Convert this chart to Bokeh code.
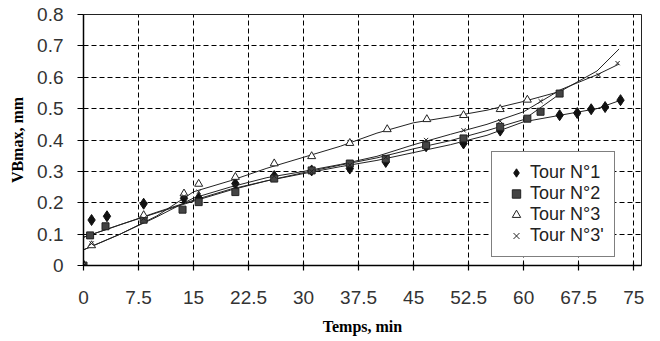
from bokeh.plotting import figure
from bokeh.models import Range1d, FixedTicker, Legend, LegendItem
from bokeh.embed import file_html
from bokeh.resources import INLINE

# ---- axis ticks ----
x_ticks = [0, 7.5, 15, 22.5, 30, 37.5, 45, 52.5, 60, 67.5, 75]
x_tick_labels = ["0", "7.5", "15", "22.5", "30", "37.5", "45", "52.5", "60", "67.5", "75"]
y_ticks = [0, 0.1, 0.2, 0.3, 0.4, 0.5, 0.6, 0.7, 0.8]
y_tick_labels = ["0", "0.1", "0.2", "0.3", "0.4", "0.5", "0.6", "0.7", "0.8"]

# ---- measured points ----
tour1_x = [0, 1.1, 3.2, 8.2, 13.7, 15.7, 20.7, 26, 31.1, 36.3, 41.2, 46.7, 51.8, 56.8, 64.9, 67.3, 69.2, 71.1, 73.2]
tour1_y = [0, 0.145, 0.157, 0.197, 0.214, 0.215, 0.261, 0.285, 0.303, 0.309, 0.33, 0.38, 0.389, 0.43, 0.479, 0.486, 0.498, 0.505, 0.527]

tour2_x = [0, 0.9, 3.0, 8.2, 13.5, 15.7, 20.7, 26, 31.1, 36.3, 41.2, 46.7, 51.8, 56.8, 60.5, 62.3, 64.9]
tour2_y = [0, 0.096, 0.125, 0.146, 0.178, 0.202, 0.234, 0.277, 0.303, 0.325, 0.34, 0.383, 0.405, 0.442, 0.468, 0.49, 0.548]

tour3_x = [0, 1.1, 8.2, 13.7, 15.7, 20.7, 26, 31.1, 36.3, 41.4, 46.8, 51.8, 56.8, 60.5]
tour3_y = [0, 0.064, 0.16, 0.229, 0.26, 0.282, 0.325, 0.348, 0.39, 0.434, 0.466, 0.479, 0.498, 0.528]

tour3b_x = [0, 1.1, 8.2, 13.7, 15.7, 20.7, 26, 31.1, 36.3, 41.2, 46.7, 51.8, 56.8, 62.3, 70.2, 72.8]
tour3b_y = [0, 0.07, 0.15, 0.22, 0.235, 0.255, 0.285, 0.3, 0.32, 0.345, 0.4, 0.431, 0.46, 0.524, 0.607, 0.645]

# ---- trend curves ----
trend_x = [0, 5, 10, 15, 20, 25, 30, 35, 40, 45, 50, 55, 60, 65, 70, 73]
trend1_y = [0.09, 0.13, 0.17, 0.208, 0.243, 0.27, 0.293, 0.315, 0.335, 0.36, 0.385, 0.415, 0.458, 0.479, 0.5, 0.525]
trend2_x = [0, 5, 10, 15, 20, 25, 30, 35, 40, 45, 50, 55, 60, 65]
trend2_y = [0.09, 0.13, 0.168, 0.205, 0.24, 0.27, 0.296, 0.32, 0.343, 0.372, 0.398, 0.43, 0.465, 0.548]
trend3_y = [0.05, 0.1, 0.158, 0.235, 0.27, 0.31, 0.345, 0.38, 0.422, 0.455, 0.474, 0.495, 0.523, 0.555, 0.62, 0.69]
trend3b_y = [0.05, 0.1, 0.155, 0.215, 0.25, 0.28, 0.3, 0.322, 0.348, 0.385, 0.418, 0.45, 0.49, 0.56, 0.608, 0.642]

series_labels = ["Tour N°1", "Tour N°2", "Tour N°3", "Tour N°3'"]

p = figure(width=652, height=338, output_backend="svg", toolbar_location=None,
           x_range=Range1d(0, 76.06), y_range=Range1d(0, 0.8),
           min_border_left=83, min_border_right=11, min_border_top=14, min_border_bottom=73)
p.background_fill_color = "white"
p.border_fill_color = "white"
p.outline_line_color = "#222222"
p.outline_line_width = 1

# grids
p.xgrid.ticker = FixedTicker(ticks=x_ticks[1:])
p.ygrid.ticker = FixedTicker(ticks=y_ticks[1:])
for g in (p.xgrid[0], p.ygrid[0]):
    g.grid_line_color = "black"
    g.grid_line_dash = "5 3"
    g.grid_line_width = 1

# axes
tick_font = "Liberation Sans"
p.xaxis.ticker = FixedTicker(ticks=x_ticks)
p.xaxis.major_label_overrides = {t: l for t, l in zip(x_ticks, x_tick_labels)}
p.yaxis.ticker = FixedTicker(ticks=y_ticks)
p.yaxis.major_label_overrides = {t: l for t, l in zip(y_ticks, y_tick_labels)}
for ax in (p.xaxis[0], p.yaxis[0]):
    ax.axis_line_color = "black"
    ax.axis_line_width = 1.5
    ax.major_tick_line_color = "black"
    ax.major_tick_line_width = 1.2
    ax.minor_tick_line_color = None
    ax.major_label_text_font = tick_font
    ax.major_label_text_font_size = "19px"
    ax.major_label_text_color = "#333333"
    ax.axis_label_text_font = "Liberation Serif"
    ax.axis_label_text_font_style = "bold"
    ax.axis_label_text_font_size = "16px"
    ax.axis_label_text_color = "black"
p.xaxis.major_tick_in = 3
p.xaxis.major_tick_out = 5
p.yaxis.major_tick_in = 0
p.yaxis.major_tick_out = 6
p.xaxis.major_label_standoff = 20
p.yaxis.major_label_standoff = 14
p.xaxis.axis_label = "Temps, min"
p.yaxis.axis_label = "VBmax, mm"
p.xaxis.axis_label_standoff = 11
p.yaxis.axis_label_standoff = 8

# trend lines
p.line(trend_x, trend1_y, line_color="#222222", line_width=1)
p.line(trend2_x, trend2_y, line_color="#222222", line_width=1)
p.line(trend_x, trend3_y, line_color="#222222", line_width=1)
p.line(trend_x, trend3b_y, line_color="#222222", line_width=1)

# markers
r1 = p.scatter(tour1_x, tour1_y, marker="diamond", size=11, fill_color="#111111", line_color="#111111")
r2 = p.scatter(tour2_x, tour2_y, marker="square", size=7, fill_color="#444444", line_color="#222222")
r3 = p.scatter(tour3_x, tour3_y, marker="triangle", size=8, fill_color="white", line_color="#222222", line_width=1)
r4 = p.scatter(tour3b_x, tour3b_y, marker="x", size=6, line_color="#222222", line_width=1)

legend = Legend(items=[LegendItem(label=l, renderers=[r]) for l, r in zip(series_labels, [r1, r2, r3, r4])],
                location=(408, 8), margin=0, padding=10, spacing=0,
                label_height=21, glyph_height=21, glyph_width=28, label_standoff=0,
                label_text_font=tick_font, label_text_font_size="18px", label_text_color="#222222",
                border_line_color="black", border_line_width=1.5,
                background_fill_color="white", background_fill_alpha=1)
p.add_layout(legend, "center")

open("out.html", "w").write(file_html(p, INLINE))
